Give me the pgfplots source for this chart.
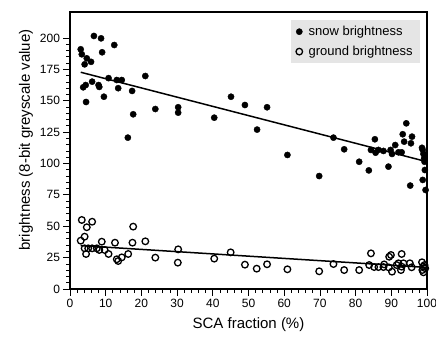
\documentclass[border=0pt]{standalone}
\usepackage{fontspec}
\setmainfont{Liberation Sans}
\usepackage{pgfplots}
\pgfplotsset{compat=1.18}
\begin{document}
\begin{tikzpicture}
\begin{axis}[
 scale only axis, width=357pt, height=277pt,
 xmin=0, xmax=100, ymin=0, ymax=220.7,
 xtick={0,10,...,100}, ytick={0,25,...,200},
 minor x tick num=4, minor y tick num=4,
 tick align=outside, tick pos=left,
 major tick length=6.5pt, minor tick length=3.5pt,
 every tick/.style={black, line width=0.8pt},
 axis line style={line width=1.3pt},
 ticklabel style={font=\fontsize{12}{12}\selectfont},
 /pgf/number format/assume math mode=true,
 xlabel={SCA fraction (\%)},
 ylabel={brightness (8-bit greyscale value)},
 label style={font=\fontsize{15}{15}\selectfont},
 xlabel style={at={(axis description cs:0.5,-0.13)}, anchor=center},
 ylabel style={at={(axis description cs:-0.123,0.538)}, anchor=center},
 legend style={at={(axis description cs:0.98,0.971)}, anchor=north east,
   fill=black!10, draw=none, font=\fontsize{13}{13}\selectfont,
   row sep=5pt, column sep=4pt, inner xsep=5pt, inner ysep=4pt},
 legend cell align=left,
]
\coordinate (o) at (rel axis cs:0,0);
\addplot[only marks, mark=*, mark size=3.1pt, black] coordinates {
(3.0,191) (3.3,187) (3.7,160.7) (4.1,179) (4.4,162.5) (4.5,149) (4.7,183.8) (5.9,181) (6.2,165.2) (6.7,201.6) (8.0,162.5) (8.2,161) (8.7,199.7) (9.0,188.6) (9.5,153.2) (10.8,168) (12.4,194.4) (13.1,166.5) (13.5,160) (14.5,166.5) (16.2,120.6) (17.4,157.8) (17.7,139.2) (21.1,169.7) (23.9,143.4) (30.3,144.8) (30.3,140.5) (40.4,136.5) (45.1,153.2) (49,146.6) (52.4,127) (55.2,144.8) (60.9,106.8) (69.8,90) (73.8,120.6) (76.8,111.3) (81,101.4) (83.7,94.5) (85.4,119.3) (84.3,110.8) (85.6,108.6) (86.4,110.8) (87.8,110) (89.2,97.5) (89.8,110.8) (90.2,107.6) (91.1,114.7) (92,108.9) (92.9,108.9) (94.2,132) (93.2,123.3) (93.6,117.4) (95.8,121.4) (95.5,116.1) (95.3,82.4) (98.6,112.5) (98.8,110.8) (99,107.6) (99.2,104) (99.3,101.4) (99.4,94.8) (98.8,86.9) (99.6,78.9)
};
\addlegendentry{snow brightness}
\addplot[only marks, mark=o, mark size=3.3pt, black, mark options={fill=white, line width=1.3pt}] coordinates {
(3.3,55) (6.2,53.6) (4.7,49.2) (17.7,49.7) (4.1,41.7) (3.0,38.5) (8.9,37.7) (12.6,36.9) (17.5,36.9) (21.1,38) (4.1,32.4) (5.1,32.4) (6.2,32.4) (7.5,32.4) (8.2,31.1) (9.7,31.1) (4.5,27.9) (10.8,27.9) (16.3,27.9) (14.5,25.2) (13.1,23.7) (13.5,22.3) (23.9,25) (30.3,31.6) (30.2,21) (40.4,24.2) (45,29.2) (49,19.4) (52.3,16.2) (55.2,19.7) (60.9,15.7) (69.8,14.1) (73.8,19.9) (76.8,15.1) (81,15.1) (84.3,28.4) (83.8,19.1) (85.2,17.5) (86.4,17.5) (87.8,17.5) (88,19.6) (89.3,17.2) (89.4,25.7) (89.9,27.1) (90.2,13.8) (91.5,19.1) (92,20.5) (92.9,17.8) (93.4,20.5) (92.9,27.9) (92.7,15.1) (95.2,20.5) (95.7,17.3) (98.6,21.3) (98.9,17.8) (98.7,15.1) (99,13.3) (99.3,19.1) (99.5,16.5)
};
\addlegendentry{ground brightness}
\addplot[black, line width=1.5pt, forget plot] coordinates {(3,172.7) (100,101.4)};
\addplot[black, line width=1.5pt, forget plot] coordinates {(3,34.6) (100,17.2)};
\end{axis}
\pgfresetboundingbox
\path ([shift={(-70pt,-49pt)}]o) rectangle ++(436pt,338pt);
\end{tikzpicture}
\end{document}
